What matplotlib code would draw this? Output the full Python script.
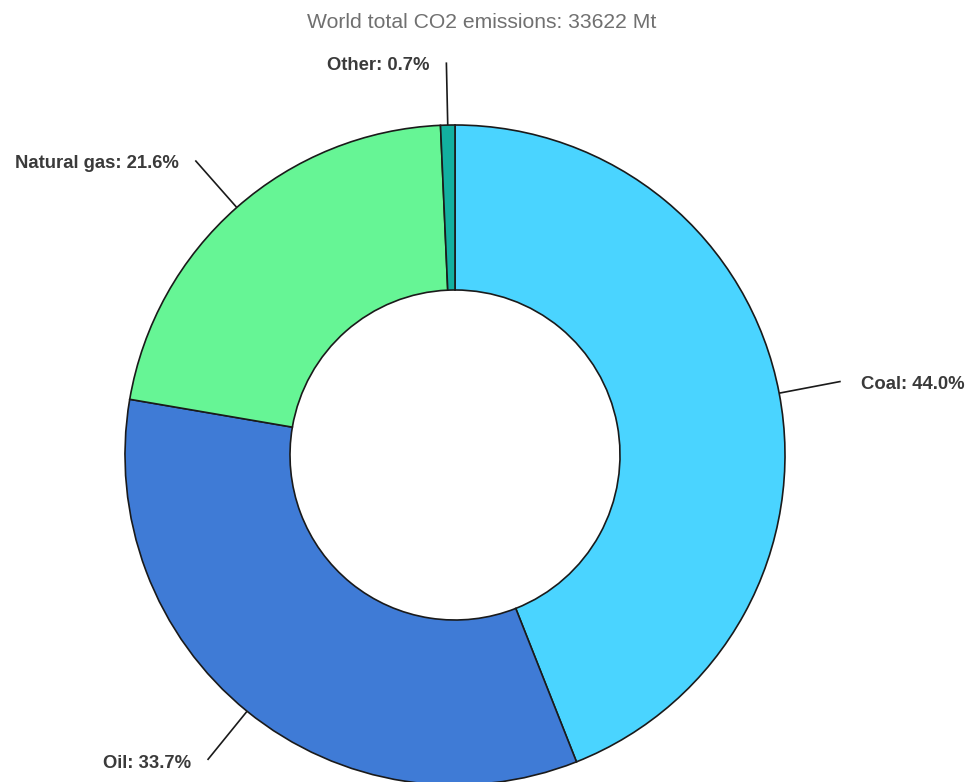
import numpy as np
import matplotlib.pyplot as plt

### data
fuels = ['Coal', 'Oil', 'Natural gas', 'Other']
shares = [44.0, 33.7, 21.6, 0.7]
colors = ['#4ad4ff', '#3f7bd6', '#66f595', '#12b0a0']
title = 'World total CO2 emissions: 33622 Mt'

plt.rcParams['font.family'] = ['Liberation Sans', 'DejaVu Sans']

fig = plt.figure(figsize=(9.7, 7.82), dpi=100)
ax = fig.add_axes([0, 0, 1, 1])

wedges, _ = ax.pie(shares, colors=colors, startangle=90, counterclock=False,
                   radius=1.0,
                   wedgeprops=dict(width=0.5, edgecolor='#1a1a1a', linewidth=1.2))

### 1 data unit = 330 px, center at (455, 455) px from top-left
ax.set_xlim(-455 / 330, (970 - 455) / 330)
ax.set_ylim(-(782 - 455) / 330, 455 / 330)
ax.set_aspect('equal')
ax.axis('off')

### leader lines + labels
for w, name, val in zip(wedges, fuels, shares):
    ang = np.deg2rad((w.theta1 + w.theta2) / 2)
    c, s = np.cos(ang), np.sin(ang)
    x0, y0 = 1.0 * c, 1.0 * s
    x1, y1 = 1.19 * c, 1.19 * s
    ax.plot([x0, x1], [y0, y1], color='#1a1a1a', lw=1.2, solid_capstyle='butt')
    ha = 'left' if c > 0 else 'right'
    xt = x1 + (0.06 if c > 0 else -0.05)
    ax.text(xt, y1 - 0.01, f'{name}: {val:.1f}%', ha=ha, va='center',
            fontsize=13.3, fontweight='bold', color='#3a3a3a')

fig.text(482 / 970, 1 - 22 / 782, title, ha='center', va='center',
         fontsize=15.2, color='#707070')

fig.savefig('out.png', dpi=100, facecolor='white')
